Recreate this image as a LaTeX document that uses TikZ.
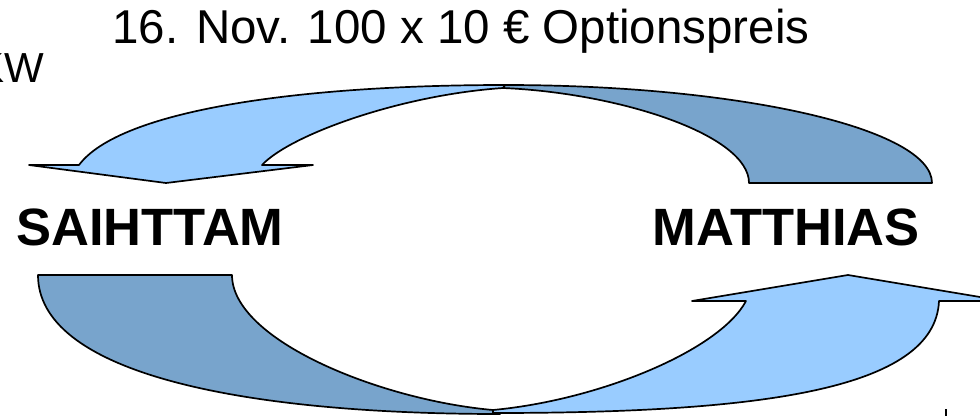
\documentclass[tikz,border=0pt]{standalone}
\usepackage{fontspec}
\setmainfont{Liberation Sans}
\definecolor{frontblue}{HTML}{99CCFF}
\definecolor{backblue}{HTML}{78A4CC}
\tikzset{
  band/.style={draw=black, line width=1.7pt, line join=round},
  front/.style={band, fill=frontblue},
  back/.style={band, fill=backblue},
  title/.style={inner sep=0pt, font=\fontsize{47.5}{52}\selectfont},
  person/.style={inner sep=0pt, font=\fontsize{52.5}{58}\selectfont\bfseries},
}
\begin{document}
\begin{tikzpicture}[x=1pt, y=-1pt]
\useasboundingbox (0,0) rectangle (980,416);
\clip (0,0) rectangle (980,416);

% upper curved arrow (right to left)
\coordinate (ua-tailout) at (932,183);
\coordinate (ua-tailin)  at (749,183);
\coordinate (ua-top)     at (505,85);
\coordinate (ua-cusp)    at (503,88);
\coordinate (ua-out)     at (79,165);
\coordinate (ua-in)      at (262,165);
\coordinate (ua-wl)      at (29,165);
\coordinate (ua-wr)      at (313,165);
\coordinate (ua-tip)     at (166,183);

\path[back] (ua-tailin) .. controls (749,135) and (620,93) .. (ua-cusp)
  -- (ua-top) .. controls (741,85) and (932,129) .. (ua-tailout) -- cycle;
\path[front] (ua-out) -- (ua-wl) -- (ua-tip) -- (ua-wr) -- (ua-in)
  .. controls (290,135) and (400,95) .. (ua-cusp) -- (ua-top)
  .. controls (300,85) and (120,110) .. (ua-out) -- cycle;

% lower curved arrow (left to right)
\coordinate (la-tailout) at (38,275);
\coordinate (la-tailin)  at (232,275);
\coordinate (la-bot)     at (500,414);
\coordinate (la-cusp)    at (493,410);
\coordinate (la-in)      at (746,301);
\coordinate (la-out)     at (939,301);
\coordinate (la-wl)      at (692,301);
\coordinate (la-wr)      at (1004,301);
\coordinate (la-tip)     at (848,275);

\path[back] (la-tailout) -- (la-tailin)
  .. controls (232,340) and (380,400) .. (la-cusp) -- (la-bot)
  .. controls (230,414) and (38,370) .. (la-tailout) -- cycle;
\path[front] (la-cusp) .. controls (600,400) and (720,350) .. (la-in)
  -- (la-wl) -- (la-tip) -- (la-wr) -- (la-out)
  .. controls (935,390) and (760,413) .. (493,413) -- cycle;

% labels
\node[title, anchor=base] (heading) at (461,43) {16. Nov. 100 x 10 € Optionspreis};
\node[inner sep=0pt, anchor=base east, font=\fontsize{42}{46}\selectfont] (kw) at (44,82) {KW};
\node[person, anchor=base] (left) at (150,245) {SAIHTTAM};
\node[person, anchor=base] (right) at (786,245) {MATTHIAS};

% small tick at the lower edge
\coordinate (tick-a) at (946,409);
\coordinate (tick-b) at (946,416);
\draw[line width=1.5pt] (tick-a) -- (tick-b);
\end{tikzpicture}
\end{document}
